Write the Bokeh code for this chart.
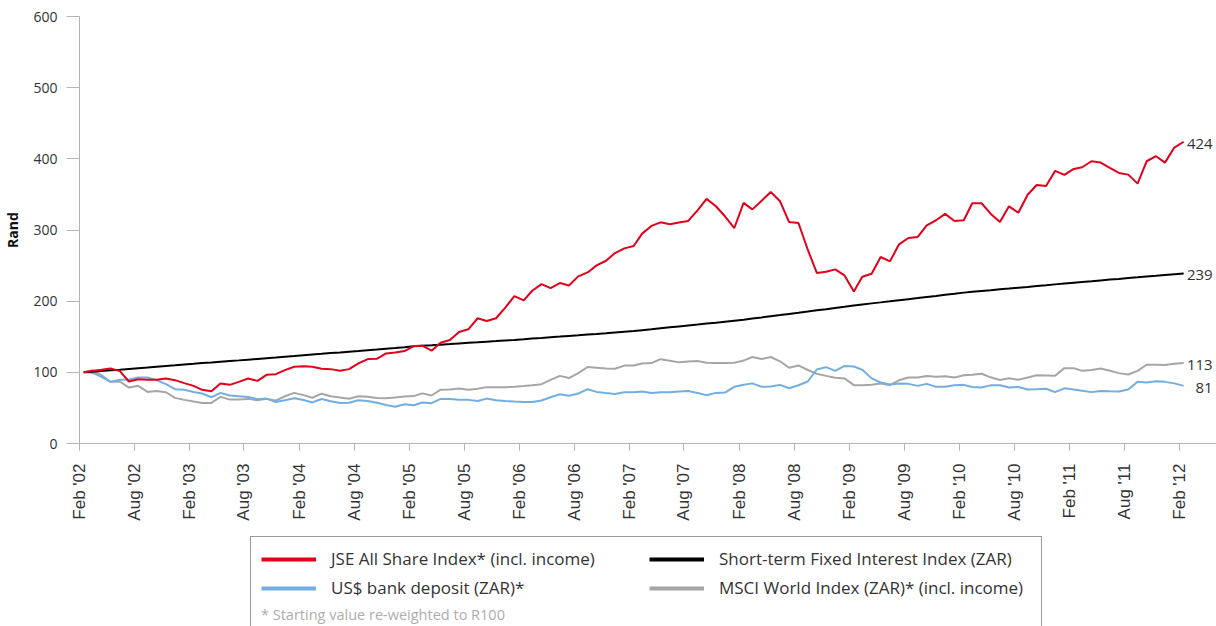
import pandas as pd
from bokeh.plotting import figure
from bokeh.layouts import column
from bokeh.models import (ColumnDataSource, Range1d, FixedTicker, DatetimeTickFormatter,
                          Legend, LegendItem)
from bokeh.core.properties import value
from bokeh.embed import file_html
from bokeh.resources import INLINE

# ---------------- data (monthly, Feb 2002 .. Feb 2012, starting value = R100) ----------------
jse = [100, 102, 103.6, 105.5, 101.7, 87.1, 90.4, 89.5, 89.5, 91.3, 89.0, 84.8, 81.0, 75.4, 73.5,
       84.3, 82.4, 86.6, 91.3, 88.0, 96.5, 97.4, 103.1, 107.8, 108.7, 107.8, 105.0, 104.5, 102.2,
       104.5, 112.5, 118.6, 119.0, 126.6, 128.0, 129.9, 136.9, 137.4, 130.4, 141.5, 145.5, 156.7,
       160.5, 176.0, 172.2, 176.0, 190.6, 207.0, 201.0, 214.6, 224.0, 218.4, 225.4, 222.1, 234.8,
       240.4, 250.3, 256.8, 267.6, 274.2, 277.5, 294.9, 305.7, 310.8, 308.0, 310.4, 312.7, 327.7,
       343.7, 333.4, 319.3, 302.8, 338.1, 329.0, 341.2, 353.4, 340.3, 311.2, 309.8, 272.3, 239.6,
       241.4, 244.7, 236.2, 213.7, 234.4, 238.6, 262.1, 256.0, 279.9, 288.8, 290.2, 306.6, 313.7,
       322.6, 312.7, 313.7, 337.6, 337.6, 322.9, 311.1, 333.2, 324.3, 349.6, 363.3, 361.9, 383.0,
       377.4, 385.8, 388.2, 396.6, 394.7, 387.2, 380.2, 377.8, 365.2, 396.6, 403.7, 394.7, 415.8,
       424]
stefi = [100, 100.9, 101.9, 102.9, 103.8, 104.8, 105.8, 106.8, 107.9, 108.9, 109.9, 111.0,
         112.0, 113.0, 113.9, 114.9, 115.9, 116.8, 117.8, 118.8, 119.8, 120.8, 121.9, 122.9,
         124.0, 125.0, 126.0, 127.0, 128.0, 129.0, 130.0, 131.1, 132.1, 133.2, 134.2, 135.3,
         136.5, 137.3, 138.1, 138.9, 139.7, 140.6, 141.4, 142.2, 143.1, 143.9, 144.8, 145.6,
         146.5, 147.4, 148.3, 149.3, 150.2, 151.2, 152.1, 153.1, 154.0, 155.0, 156.0, 157.0,
         158.0, 159.3, 160.6, 161.9, 163.2, 164.5, 165.8, 167.1, 168.5, 169.8, 171.2, 172.6,
         174.0, 175.6, 177.2, 178.8, 180.4, 182.1, 183.7, 185.4, 187.1, 188.8, 190.5, 192.2,
         194.0, 195.4, 196.9, 198.3, 199.8, 201.3, 202.8, 204.3, 205.8, 207.3, 208.9, 210.4,
         212.0, 213.1, 214.3, 215.4, 216.6, 217.7, 218.9, 220.0, 221.2, 222.4, 223.6, 224.8,
         226.0, 227.1, 228.1, 229.2, 230.3, 231.3, 232.4, 233.5, 234.6, 235.7, 236.8, 237.9,
         239]
usd = [100, 99.5, 93.7, 86.6, 89.5, 89.9, 92.8, 92.8, 89.0, 83.4, 76.3, 75.4, 72.5, 70.2, 65.0,
       71.1, 67.4, 66.4, 65.5, 62.2, 63.1, 58.4, 60.8, 63.5, 61.2, 57.7, 62.6, 59.4, 57.0, 57.2,
       60.8, 59.8, 57.2, 54.2, 51.6, 55.2, 53.7, 57.7, 56.6, 62.7, 62.5, 61.5, 61.3, 59.8, 63.1,
       60.8, 59.8, 58.9, 58.2, 58.4, 60.5, 65.0, 69.3, 67.0, 70.2, 76.3, 72.5, 70.8, 69.5, 72.0,
       72.0, 73.0, 71.1, 72.0, 72.0, 73.0, 73.9, 71.1, 67.8, 71.1, 71.6, 79.6, 82.5, 84.5, 79.6,
       80.0, 82.4, 77.7, 81.9, 87.1, 104.0, 107.3, 102.1, 109.0, 108.2, 103.5, 91.5, 85.7, 83.0,
       84.3, 83.8, 81.0, 83.8, 79.6, 79.6, 81.9, 82.4, 79.3, 78.8, 81.7, 81.9, 78.8, 79.4, 76.0,
       76.1, 77.0, 72.1, 77.5, 75.9, 74.2, 72.2, 73.9, 73.4, 73.0, 76.0, 86.8, 85.7, 87.6, 86.6,
       84.5, 81]
msci = [100, 103, 96.0, 86.6, 87.1, 78.6, 81.0, 72.5, 73.9, 72.0, 64.1, 61.3, 58.9, 57.0, 57.0,
        65.5, 61.7, 61.7, 62.7, 60.8, 62.7, 60.3, 66.4, 71.1, 68.0, 64.3, 70.0, 66.4, 64.5, 62.9,
        66.4, 65.8, 63.9, 63.6, 64.6, 66.2, 66.6, 70.4, 67.4, 75.6, 75.9, 77.2, 75.4, 76.8, 79.2,
        79.2, 79.2, 79.7, 80.8, 82.0, 83.4, 89.3, 95.0, 92.0, 99.0, 107.5, 106.5, 105.5, 105.0,
        109.5, 109.7, 112.5, 113.0, 118.5, 116.3, 114.0, 115.3, 116.0, 113.5, 113.0, 113.0, 113.5,
        116.5, 121.5, 118.6, 121.5, 115.5, 106.5, 109.7, 103.3, 98.0, 95.0, 92.5, 91.5, 82.0,
        82.0, 82.4, 84.3, 82.0, 88.8, 92.7, 92.7, 95.0, 93.8, 94.6, 92.7, 96.0, 96.6, 98.0, 93.0,
        89.2, 91.8, 89.6, 92.7, 96.0, 95.6, 95.1, 105.9, 105.9, 102.1, 103.2, 105.3, 102.1, 98.9,
        97.0, 102.0, 110.6, 110.6, 110.2, 112.0, 113]

series_names = ["JSE All Share Index* (incl. income)",
                "Short-term Fixed Interest Index (ZAR)",
                "US$ bank deposit (ZAR)*",
                "MSCI World Index (ZAR)* (incl. income)"]
footnote = "* Starting value re-weighted to R100"
y_ticks = [0, 100, 200, 300, 400, 500, 600]
tick_dates = pd.date_range("2002-02-01", "2012-02-01", freq="6MS")

dates = pd.date_range("2002-02-01", periods=len(jse), freq="MS") + pd.Timedelta(days=14)

RED, BLACK, BLUE, GREY = "#E2001A", "#000000", "#72AEE2", "#A6A6A6"
AXIS = "#B4B4B4"
TXT = "#333333"

src = ColumnDataSource(dict(x=dates, jse=jse, stefi=stefi, usd=usd, msci=msci))
cols = ["jse", "stefi", "usd", "msci"]
colors = [RED, BLACK, BLUE, GREY]

p = figure(frame_width=1137, frame_height=427, x_axis_type="datetime",
           output_backend="svg", toolbar_location=None,
           x_range=Range1d(pd.Timestamp("2002-02-01"), pd.Timestamp("2012-06-03")),
           y_range=Range1d(0, 600),
           min_border_left=79, min_border_right=0, min_border_top=16, min_border_bottom=87)
p.outline_line_color = None
p.background_fill_color = "white"
p.border_fill_color = "white"

for c in ["msci", "usd", "stefi", "jse"]:
    p.line("x", c, source=src, line_color=colors[cols.index(c)], line_width=2)

# end labels
last = len(jse) - 1
ends = [jse[last], stefi[last], msci[last], usd[last]]
lab = ColumnDataSource(dict(x=[dates[last]] * 4, y=ends, t=["%d" % round(v) for v in ends]))
p.text("x", "y", text="t", source=lab, text_align="right", text_baseline="middle",
       x_offset=29, y_offset=2, text_font=value("Open Sans"), text_font_size="15px",
       text_color=TXT)

# axes
p.xgrid.visible = False
p.ygrid.ticker = FixedTicker(ticks=[600])
p.ygrid.grid_line_color = AXIS
p.ygrid.grid_line_width = 1

yax = p.yaxis[0]
yax.ticker = FixedTicker(ticks=y_ticks)
yax.axis_line_color = AXIS
yax.major_tick_line_color = AXIS
yax.major_tick_out = 13
yax.major_tick_in = 0
yax.minor_tick_line_color = None
yax.major_label_standoff = 9
yax.major_label_text_font = "Open Sans"
yax.major_label_text_font_size = "14px"
yax.major_label_text_color = TXT
yax.axis_label = "Rand"
yax.axis_label_text_font = "Open Sans"
yax.axis_label_text_font_style = "bold"
yax.axis_label_text_font_size = "14px"
yax.axis_label_text_color = "#111111"
yax.axis_label_standoff = 8

xax = p.xaxis[0]
xax.ticker = FixedTicker(ticks=[d.value // 10**6 for d in tick_dates])
fmt = "%b '%y"
xax.formatter = DatetimeTickFormatter(milliseconds=fmt, seconds=fmt, minsec=fmt, minutes=fmt,
                                      hourmin=fmt, hours=fmt, days=fmt, months=fmt, years=fmt)
xax.axis_line_color = AXIS
xax.major_tick_line_color = AXIS
xax.major_tick_out = 7
xax.major_tick_in = 0
xax.minor_tick_line_color = None
xax.major_label_orientation = 3.14159265 / 2
xax.major_label_standoff = 13
xax.major_label_text_font = "Liberation Sans"
xax.major_label_text_font_size = "17px"
xax.major_label_text_color = TXT

# ---------------- legend panel (separate, axis-less figure under the chart) ----------------
q = figure(width=1216, height=96, output_backend="svg", toolbar_location=None,
           x_range=Range1d(0, 1), y_range=Range1d(0, 1),
           x_axis_location=None, y_axis_location=None, min_border=0)
q.outline_line_color = None
q.grid.visible = False
q.background_fill_color = "white"
q.border_fill_color = "white"

# the series are re-drawn here far outside this panel's ranges (so invisible);
# they only provide the thicker legend swatches
swatches = [q.line("x", c, source=src, line_color=colors[i], line_width=4)
            for i, c in enumerate(cols)]
legend = Legend(items=[LegendItem(label=series_names[i], renderers=[swatches[i]]) for i in range(4)],
                orientation="horizontal", ncols=2,
                location=(171, -9),
                title=footnote, title_location="below",
                title_text_font="Open Sans", title_text_font_style="normal",
                title_text_font_size="14.5px", title_text_color="#ADADAD", title_standoff=6,
                label_text_font="Open Sans", label_text_font_size="17px", label_text_color=TXT,
                glyph_width=55, glyph_height=20, label_standoff=15, label_height=20,
                label_width=312, spacing=6, padding=10, margin=0,
                border_line_color="#333333", border_line_width=1,
                background_fill_color="white", background_fill_alpha=1.0)
q.add_layout(legend, "center")

layout = column(p, q, spacing=0)
open("out.html", "w").write(file_html(layout, INLINE))
